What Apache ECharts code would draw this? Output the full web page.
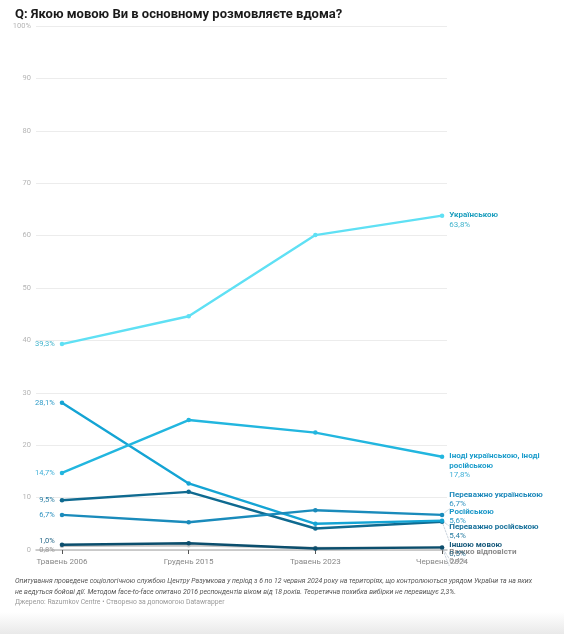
<!DOCTYPE html>
<html>
<head>
<meta charset="utf-8">
<script src="https://cdn.jsdelivr.net/npm/echarts@6/dist/echarts.min.js"></script>
<style>
html,body{margin:0;padding:0;background:#fff;}
#c{width:564px;height:634px;}
</style>
</head>
<body>
<div id="c"></div>
<script>
// ---- data ----
const categories = ['Травень 2006', 'Грудень 2015', 'Травень 2023', 'Червень 2024'];
const seriesNames = ['Українською', 'Іноді українською, іноді російською', 'Переважно українською', 'Російською', 'Переважно російською', 'Іншою мовою', 'Важко відповісти'];
const ukrainian      = [39.3, 44.6, 60.1, 63.8];
const sometimes      = [14.7, 24.8, 22.4, 17.8];
const mostlyUkr      = [6.7, 5.3, 7.6, 6.7];
const russian        = [28.1, 12.7, 5.0, 5.6];
const mostlyRus      = [9.5, 11.1, 4.1, 5.4];
const otherLang      = [1.0, 1.3, 0.3, 0.5];
const hardToSay      = [0.8, 0.9, 0.4, 0.4];
const yTicks = [0, 10, 20, 30, 40, 50, 60, 70, 80, 90, 100];

const values = [ukrainian, sometimes, mostlyUkr, russian, mostlyRus, otherLang, hardToSay];

// ---- styles ----
const styles = [
  {line:'#5fe0f4', lab:'#1a9dbd', val:'#3fb3cc', w:2.4, rName:'Українською', rDy:4.5, lDy:0},
  {line:'#22b6df', lab:'#1a9ccb', val:'#3fb0d8', w:2.4, rName:'Іноді українською, іноді\nросійською', rDy:9, lDy:0},
  {line:'#1a8bbb', lab:'#1c88ba', val:'#2f92c0', w:2.4, rName:'Переважно українською', rDy:-15.5, lDy:0, lead:true},
  {line:'#14a4d4', lab:'#1a97c8', val:'#2f9cc8', w:2.4, rName:'Російською', rDy:-4, lDy:0, lead:true},
  {line:'#0f6a90', lab:'#17709a', val:'#2a7ea3', w:2.4, rName:'Переважно російською', rDy:10, lDy:0, lead:true},
  {line:'#0b4e6d', lab:'#15587a', val:'#2a6a8a', w:2.4, rName:'Іншою мовою', rDy:2, lDy:-4, lead:true},
  {line:'#c4c4c4', lab:'#8a8a8a', val:'#999999', w:2.4, rName:'Важко відповісти', rDy:8.6, lDy:4, lead:true}
];

function fmt(v){ return String(v.toFixed(1)).replace('.', ',') + '%'; }

const series = values.map((arr, i) => {
  const st = styles[i];
  const data = arr.map((v, j) => {
    const item = {value:[j, v]};
    if (j === 0) {
      item.label = {show:true, position:'left', distance:5, offset:[0, st.lDy],
        formatter: fmt(v), color: st.val, fontSize:7.5, fontFamily:'Roboto'};
    } else if (j === arr.length - 1) {
      item.label = {show:true, position:'right', distance:5, offset:[0, st.rDy],
        formatter: '{n|' + st.rName.split('\n').join('}\n{n|') + '}\n{v|' + fmt(v) + '}',
        rich:{
          n:{color:st.lab, fontWeight:'bold', fontSize:8, lineHeight:9.5, fontFamily:'Roboto'},
          v:{color:st.val, fontSize:8, lineHeight:9.5, fontFamily:'Roboto'}
        }};
      if (st.lead) {
        item.labelLine = {show:true, length2:0, lineStyle:{type:'dotted', color:'#9ab', width:0.8}};
      }
    }
    return item;
  });
  return {
    name: seriesNames[i], type:'line', data: data,
    z: 10 - i,
    symbol:'circle', symbolSize:4.5,
    itemStyle:{color: st.line},
    lineStyle:{color: st.line, width: st.w},
    emphasis:{disabled:true},
    animation:false
  };
});

const chart = echarts.init(document.getElementById('c'), null, {renderer:'canvas'});
chart.setOption({
  backgroundColor:'#fff',
  animation:false,
  title:{
    text:'Q: Якою мовою Ви в основному розмовляєте вдома?',
    left:10, top:3,
    textStyle:{fontSize:13, fontWeight:'bold', color:'#1a1a1a', fontFamily:'Roboto'}
  },
  grid:{left:36, right:117, top:26, bottom:84, containLabel:false},
  xAxis:{
    type:'value', min:-0.205, max:3.039,
    axisLine:{show:true, lineStyle:{color:'#bdbdbd', width:1.5}},
    axisTick:{show:true, customValues:[0,1,2,3], length:4, lineStyle:{color:'#555'}},
    axisLabel:{show:true, customValues:[0,1,2,3], formatter: v => categories[Math.round(v)],
      color:'#888', fontSize:8, margin:8, fontFamily:'Roboto'},
    splitLine:{show:false}
  },
  yAxis:{
    type:'value', min:0, max:100, interval:10,
    axisLine:{show:false}, axisTick:{show:false},
    axisLabel:{color:'#b5b5b5', fontSize:7.5, margin:5, fontFamily:'Roboto',
      formatter: v => (yTicks.indexOf(v) >= 0 ? (v === 100 ? '100%' : String(v)) : '')},
    splitLine:{show:true, lineStyle:{color:'#ececec', width:1}}
  },
  series: series,
  graphic:[
    {type:'rect', left:0, top:612, shape:{width:564, height:22}, z:-1, silent:true,
      style:{fill:new echarts.graphic.LinearGradient(0,0,0,1,[{offset:0,color:'#ffffff'},{offset:1,color:'#e9e9e9'}])}},
    {type:'text', left:15, top:576, silent:true,
      style:{text:'Опитування проведене соціологічною службою Центру Разумкова у період з 6 по 12 червня 2024 року на територіях, що контролюються урядом України та на яких\nне ведуться бойові дії. Методом face-to-face опитано 2016 респондентів віком від 18 років. Теоретична похибка вибірки не перевищує 2,3%.',
        fill:'#555', fontSize:6.9, fontStyle:'italic', lineHeight:11, fontFamily:'Roboto'}},
    {type:'text', left:15, top:599, silent:true,
      style:{text:'Джерело: Razumkov Centre • Створено за допомогою Datawrapper', fill:'#999', fontSize:6.8, fontFamily:'Roboto'}}
  ]
});
</script>
</body>
</html>
